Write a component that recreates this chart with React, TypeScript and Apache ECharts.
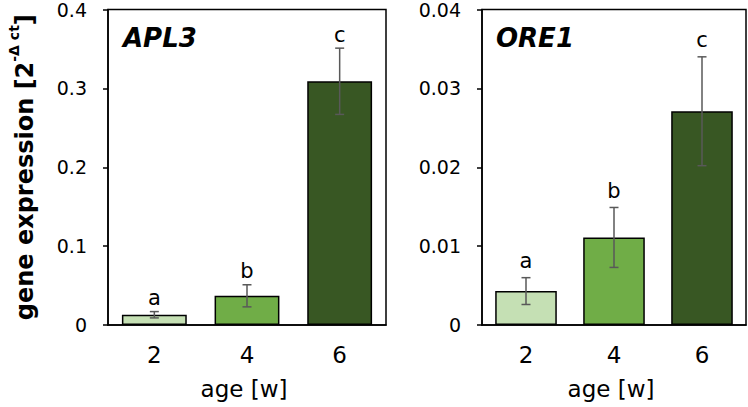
import React, { useEffect, useRef } from "react";
import * as echarts from "echarts";

const ages = ["2", "4", "6"];
const apl3Mean = [0.013, 0.037, 0.309];
const apl3Err = [0.004, 0.014, 0.042];
const apl3Letters = ["a", "b", "c"];
const ore1Mean = [0.0043, 0.0111, 0.0271];
const ore1Err = [0.0017, 0.0038, 0.0069];
const ore1Letters = ["a", "b", "c"];
const barColors = ["#C5E0B4", "#70AD47", "#385723"];
const apl3Axis = { max: 0.4, interval: 0.1 };
const ore1Axis = { max: 0.04, interval: 0.01 };
const panelTitles = ["APL3", "ORE1"];
const xName = "age [w]";

const FONT = "DejaVu Sans";

function fmt(v: number) {
  if (v === 0) return "0";
  return String(parseFloat(v.toFixed(3)));
}

function errSeries(idx: number, means: number[], errs: number[], letters: string[], gap: number) {
  return {
    type: "custom",
    xAxisIndex: idx,
    yAxisIndex: idx,
    z: 5,
    data: means.map((m, i) => [i, m, errs[i]]),
    renderItem: (params: any, api: any) => {
      const i = api.value(0);
      const m = api.value(1);
      const e = api.value(2);
      const top = api.coord([i, m + e]);
      const bot = api.coord([i, m - e]);
      const x = top[0];
      const hw = 4.5;
      const st = { stroke: "#595959", lineWidth: 1.5 };
      return {
        type: "group",
        children: [
          { type: "line", shape: { x1: x, y1: top[1], x2: x, y2: bot[1] }, style: st },
          { type: "line", shape: { x1: x - hw, y1: top[1], x2: x + hw, y2: top[1] }, style: st },
          { type: "line", shape: { x1: x - hw, y1: bot[1], x2: x + hw, y2: bot[1] }, style: st },
          {
            type: "text",
            style: {
              text: letters[i],
              x: x,
              y: top[1] - gap,
              align: "center",
              verticalAlign: "bottom",
              fontSize: 21,
              fontFamily: FONT,
              fill: "#000",
            },
          },
        ],
      };
    },
  };
}

export default function App() {
  const ref = useRef<HTMLDivElement>(null);
  useEffect(() => {
    const chart = echarts.init(ref.current!, null, { renderer: "svg" });
    const grids = [
      { left: 108, top: 9, width: 278, height: 316 },
      { left: 482, top: 9, width: 264, height: 316 },
    ].map((g) => ({ ...g, show: true, borderColor: "#000", borderWidth: 1.5, containLabel: false }));

    const xAxes = [0, 1].map((i) => ({
      type: "category",
      gridIndex: i,
      data: ages,
      name: xName,
      nameLocation: "middle",
      nameGap: 52,
      nameTextStyle: { fontSize: 23, fontFamily: FONT, color: "#000", padding: [0, 6, 0, 0] },
      axisLine: { lineStyle: { color: "#000", width: 1.5 } },
      axisTick: { show: false },
      axisLabel: { margin: 18, fontSize: 23, fontFamily: FONT, color: "#000" },
    }));

    const axisCfg = [apl3Axis, ore1Axis];
    const yAxes = [0, 1].map((i) => ({
      type: "value",
      gridIndex: i,
      min: 0,
      max: axisCfg[i].max,
      interval: axisCfg[i].interval,
      splitLine: { show: false },
      axisLine: { show: true, lineStyle: { color: "#000", width: 1.5 } },
      axisTick: { show: true, inside: false, length: 5, lineStyle: { color: "#000", width: 1.5 } },
      axisLabel: { margin: 21, fontSize: 19, fontFamily: FONT, color: "#000", formatter: fmt },
      ...(i === 0
        ? {
            name: "{m|gene expression [2}{s|-Δ ct}{m|]}",
            nameLocation: "middle",
            nameRotate: 90,
            nameGap: 71,
            nameTextStyle: {
              rich: {
                m: { fontSize: 24, fontWeight: "bold", fontFamily: FONT, color: "#000", lineHeight: 30, verticalAlign: "bottom" },
                s: { fontSize: 14, fontWeight: "bold", fontFamily: FONT, color: "#000", lineHeight: 16, verticalAlign: "top" },
              },
            },
          }
        : {}),
    }));

    const barSeries = (idx: number, vals: number[]) => ({
      type: "bar",
      xAxisIndex: idx,
      yAxisIndex: idx,
      barCategoryGap: "30%",
      data: vals.map((v, i) => ({
        value: v,
        itemStyle: { color: barColors[i], borderColor: "#000", borderWidth: 1.5 },
      })),
    });

    chart.setOption({
      animation: false,
      backgroundColor: "#fff",
      grid: grids,
      xAxis: xAxes,
      yAxis: yAxes,
      graphic: [
        {
          type: "text",
          left: 123,
          top: 25,
          style: { text: panelTitles[0], fontSize: 26, fontWeight: "bold", fontStyle: "italic", fontFamily: FONT, fill: "#000" },
        },
        {
          type: "text",
          left: 496,
          top: 25,
          style: { text: panelTitles[1], fontSize: 26, fontWeight: "bold", fontStyle: "italic", fontFamily: FONT, fill: "#000" },
        },
      ],
      series: [
        barSeries(0, apl3Mean),
        barSeries(1, ore1Mean),
        errSeries(0, apl3Mean, apl3Err, apl3Letters, 3),
        errSeries(1, ore1Mean, ore1Err, ore1Letters, 6),
      ],
    });
    return () => chart.dispose();
  }, []);
  return <div ref={ref} style={{ position: "fixed", left: 0, top: 0, width: 748, height: 407 }} />;
}
